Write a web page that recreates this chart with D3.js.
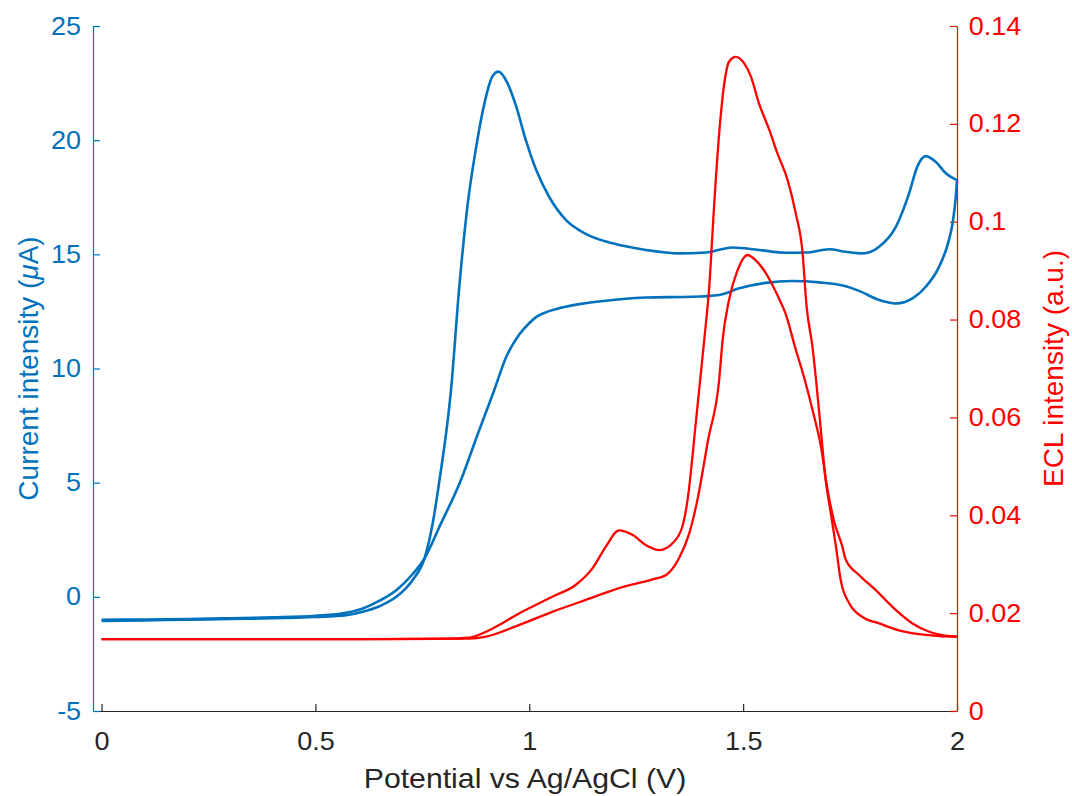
<!DOCTYPE html>
<html>
<head>
<meta charset="utf-8">
<script src="https://cdn.jsdelivr.net/npm/d3@7"></script>
<style>
  body { margin: 0; background: #fff; }
  text { font-family: Arial, "Liberation Sans", Helvetica, sans-serif; }
</style>
</head>
<body>
<svg id="chart" width="1072" height="796"></svg>
<script>
// Cyclic voltammogram (current, left axis) and ECL signal (right axis)
// Potential in V vs Ag/AgCl, current in µA, ECL in arbitrary units.

const cvForward = [
  [0.00,-1.06],[0.10,-1.03],[0.20,-1.00],[0.30,-0.97],[0.40,-0.94],[0.50,-0.88],
  [0.572,-0.80],[0.611,-0.65],[0.650,-0.41],[0.689,0.00],[0.727,0.73],[0.755,1.68],
  [0.774,3.20],[0.790,5.10],[0.817,9.05],[0.836,13.5],[0.856,17.2],[0.875,19.6],
  [0.895,21.6],[0.914,22.8],[0.928,23.0],[0.949,22.5],[0.969,21.5],[0.992,20.0],
  [1.016,18.7],[1.047,17.5],[1.086,16.5],[1.132,15.9],[1.195,15.48],[1.273,15.19],
  [1.350,15.04],[1.413,15.08],[1.475,15.30],[1.537,15.19],[1.600,15.07],[1.646,15.08],
  [1.701,15.22],[1.740,15.11],[1.779,15.04],[1.818,15.33],[1.857,16.2],[1.888,17.67],
  [1.907,18.83],[1.927,19.30],[1.950,19.05],[1.974,18.55],[2.000,18.25]
];

const cvReverse = [
  [2.000,18.25],[1.997,17.5],[1.990,16.4],[1.981,15.62],[1.958,14.45],[1.927,13.58],[1.896,13.07],
  [1.857,12.85],[1.818,13.00],[1.771,13.40],[1.740,13.60],[1.678,13.77],[1.615,13.83],
  [1.553,13.75],[1.491,13.51],[1.444,13.22],[1.382,13.14],[1.273,13.11],[1.195,13.00],
  [1.117,12.82],[1.062,12.6],[1.040,12.47],[1.016,12.25],[0.998,11.95],[0.977,11.5],
  [0.946,10.5],[0.918,9.05],[0.879,7.10],[0.840,5.11],[0.790,3.07],[0.755,1.68],
  [0.727,0.99],[0.689,0.29],[0.650,-0.17],[0.611,-0.51],[0.572,-0.70],[0.50,-0.83],
  [0.40,-0.90],[0.30,-0.94],[0.20,-0.97],[0.10,-0.99],[0.00,-1.01]
];

const eclForward = [
  [0.00,0.0147],[0.20,0.0147],[0.40,0.0147],[0.60,0.0147],[0.80,0.0148],[0.86,0.0150],
  [0.899,0.0162],[0.938,0.0180],[0.977,0.0200],[1.016,0.0217],[1.055,0.0234],[1.109,0.0258],
  [1.148,0.0292],[1.179,0.0336],[1.210,0.0369],[1.241,0.0360],[1.273,0.0339],[1.304,0.0329],
  [1.335,0.0343],[1.358,0.0377],[1.370,0.0431],[1.390,0.0595],[1.409,0.0758],[1.421,0.0870],
  [1.432,0.1031],[1.444,0.1181],[1.456,0.1283],[1.467,0.1327],[1.483,0.1337],[1.502,0.1324],
  [1.518,0.1297],[1.537,0.1242],[1.561,0.1188],[1.580,0.1140],[1.604,0.1085],[1.623,0.1017],
  [1.639,0.0936],[1.648,0.0830],[1.662,0.0745],[1.678,0.0609],[1.693,0.0472],[1.705,0.0404],
  [1.717,0.0336],[1.728,0.0268],[1.748,0.0220],[1.781,0.0191],[1.818,0.0179],[1.864,0.0165],
  [1.911,0.0157],[1.960,0.0153],[2.000,0.0152]
];

const eclReverse = [
  [2.000,0.0152],[1.965,0.0155],[1.935,0.0162],[1.896,0.0179],[1.849,0.0213],[1.810,0.0247],
  [1.771,0.0278],[1.740,0.0309],[1.732,0.0336],[1.712,0.0390],[1.696,0.0459],[1.682,0.0540],
  [1.664,0.0609],[1.644,0.0677],[1.621,0.0745],[1.600,0.0810],[1.580,0.0850],[1.553,0.0895],
  [1.533,0.0918],[1.510,0.0932],[1.487,0.0901],[1.467,0.0840],[1.452,0.0758],[1.444,0.0677],
  [1.418,0.0554],[1.393,0.0431],[1.374,0.0363],[1.350,0.0312],[1.320,0.0278],[1.288,0.0269],
  [1.210,0.0251],[1.132,0.0227],[1.055,0.0203],[0.977,0.0176],[0.899,0.0152],[0.86,0.0148],
  [0.70,0.0147],[0.50,0.0147],[0.30,0.0147],[0.00,0.0147]
];

const xTicks = [0, 0.5, 1, 1.5, 2];
const xTickLabels = ["0", "0.5", "1", "1.5", "2"];
const leftTicks = [-5, 0, 5, 10, 15, 20, 25];
const leftTickLabels = ["-5", "0", "5", "10", "15", "20", "25"];
const rightTicks = [0, 0.02, 0.04, 0.06, 0.08, 0.1, 0.12, 0.14];
const rightTickLabels = ["0", "0.02", "0.04", "0.06", "0.08", "0.1", "0.12", "0.14"];

const blue = "#0072BD";
const red = "#FF0000";
const dark = "#262626";

const box = { left: 93, right: 957, top: 26, bottom: 711 };
const svg = d3.select("#chart");

const x = d3.scaleLinear().domain([-0.02, 2]).range([box.left, box.right]);
const yL = d3.scaleLinear().domain([-5, 25]).range([box.bottom, box.top]);
const yR = d3.scaleLinear().domain([0, 0.14]).range([box.bottom, box.top]);

const tickFont = 25;
const labelFont = 28;
const widen = 1.08;   // slightly wider glyphs for horizontal text

function styleAxis(g, color) {
  g.select(".domain").attr("stroke", color).attr("stroke-width", 1.2);
  g.selectAll(".tick line").attr("stroke", color).attr("stroke-width", 1.2);
  g.selectAll(".tick text").attr("fill", color).style("font-size", tickFont + "px")
    .attr("font-family", null);
}

// bottom axis
const gx = svg.append("g").attr("transform", `translate(0,${box.bottom})`)
  .call(d3.axisBottom(x).tickValues(xTicks)
    .tickFormat((d, i) => xTickLabels[i])
    .tickSizeInner(-7).tickSizeOuter(0).tickPadding(21));
styleAxis(gx, dark);
gx.selectAll(".tick text").attr("transform", `scale(${widen},1)`);

// left axis
const gl = svg.append("g").attr("transform", `translate(${box.left},0)`)
  .call(d3.axisLeft(yL).tickValues(leftTicks)
    .tickFormat((d, i) => leftTickLabels[i])
    .tickSizeInner(-7).tickSizeOuter(0).tickPadding(11));
styleAxis(gl, blue);
gl.selectAll(".tick text").attr("transform", `scale(${widen},1)`);

// right axis
const gr = svg.append("g").attr("transform", `translate(${box.right},0)`)
  .call(d3.axisRight(yR).tickValues(rightTicks)
    .tickFormat((d, i) => rightTickLabels[i])
    .tickSizeInner(-7).tickSizeOuter(0).tickPadding(11));
styleAxis(gr, red);
gr.selectAll(".tick text").attr("transform", `scale(${widen},1)`);

// curves
const sortX = s => s.slice().sort((a, b) => a[0] - b[0]);
const lineL = d3.line().x(d => x(d[0])).y(d => yL(d[1])).curve(d3.curveMonotoneX);
const lineR = d3.line().x(d => x(d[0])).y(d => yR(d[1])).curve(d3.curveMonotoneX);

[cvForward, cvReverse].forEach(s => {
  svg.append("path").datum(sortX(s)).attr("d", lineL)
    .attr("fill", "none").attr("stroke", blue).attr("stroke-width", 2.6)
    .attr("stroke-linejoin", "round");
});
[eclForward, eclReverse].forEach(s => {
  svg.append("path").datum(sortX(s)).attr("d", lineR)
    .attr("fill", "none").attr("stroke", red).attr("stroke-width", 2.3)
    .attr("stroke-linejoin", "round");
});

// axis titles
const cx = (box.left + box.right) / 2;
svg.append("text")
  .attr("transform", `translate(${cx},788) scale(${widen},1)`)
  .attr("text-anchor", "middle").attr("fill", dark)
  .style("font-size", labelFont + "px")
  .text("Potential vs Ag/AgCl (V)");

const ly = svg.append("text")
  .attr("transform", `translate(38,${(box.top + box.bottom) / 2}) rotate(-90)`)
  .attr("text-anchor", "middle").attr("fill", blue)
  .style("font-size", labelFont + "px");
ly.append("tspan").text("Current intensity (");
ly.append("tspan").attr("font-style", "italic").text("μ");
ly.append("tspan").text("A)");

svg.append("text")
  .attr("transform", `translate(1063,${(box.top + box.bottom) / 2}) rotate(-90)`)
  .attr("text-anchor", "middle").attr("fill", red)
  .style("font-size", labelFont + "px")
  .text("ECL intensity (a.u.)");
</script>
</body>
</html>
